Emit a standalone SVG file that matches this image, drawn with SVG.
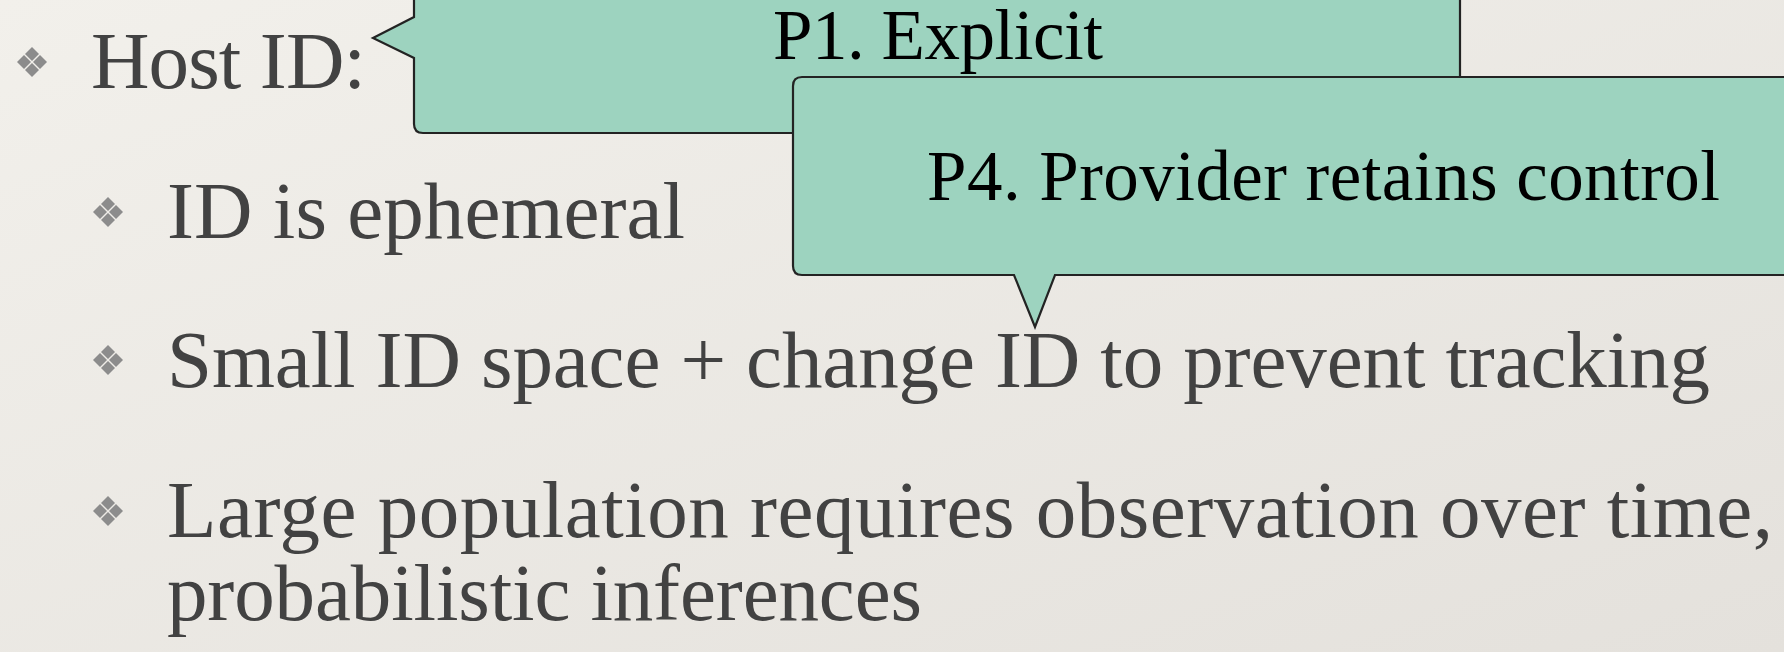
<svg xmlns="http://www.w3.org/2000/svg" xmlns:xlink="http://www.w3.org/1999/xlink" width="1784" height="652" viewBox="0 0 1784 652">
  <style>
    .body { font-family: "Liberation Serif", "Times New Roman", serif; font-size: 81px; fill: #424242; }
    .call { font-family: "Liberation Serif", "Times New Roman", serif; font-size: 71px; fill: #000000; }
    .bubble { fill: #9dd3bf; stroke: #232323; stroke-width: 2.2; stroke-linejoin: miter; }
    .dia { fill: #8c8c8c; }
  </style>
  <defs>
    <linearGradient id="paper" x1="0" y1="0" x2="1" y2="1">
      <stop offset="0" stop-color="#f2f0eb"/>
      <stop offset="1" stop-color="#e4e1dc"/>
    </linearGradient>
    <g id="bul">
      <polygon class="dia" points="0,-15 7,-8 0,-1 -7,-8"/>
      <polygon class="dia" points="-8,-7 -1,0 -8,7 -15,0"/>
      <polygon class="dia" points="8,-7 15,0 8,7 1,0"/>
      <polygon class="dia" points="0,1 7,8 0,15 -7,8"/>
    </g>
  </defs>
  <rect x="0" y="0" width="1784" height="652" fill="url(#paper)"/>

  <g id="line-host">
    <use xlink:href="#bul" x="32" y="62"/>
    <text class="body" x="91" y="88" textLength="275">Host ID:</text>
  </g>
  <g id="line-ephemeral">
    <use xlink:href="#bul" x="108" y="212"/>
    <text class="body" x="167" y="238" textLength="518">ID is ephemeral</text>
  </g>
  <g id="line-small">
    <use xlink:href="#bul" x="108" y="360"/>
    <text class="body" x="167" y="387" textLength="1543">Small ID space + change ID to prevent tracking</text>
  </g>
  <g id="line-large">
    <use xlink:href="#bul" x="108" y="511"/>
    <text class="body" x="167" y="537" textLength="1606">Large population requires observation over time,</text>
    <text class="body" x="167" y="620" textLength="755">probabilistic inferences</text>
  </g>

  <g id="connectors"></g>

  <g id="callout-p1">
    <path class="bubble" d="M414,-20 L1460,-20 L1460,133 L423,133 Q414,133 414,124 L414,58 L373,38 L414,17 Z"/>
    <text class="call" x="773" y="59" textLength="330">P1. Explicit</text>
  </g>
  <g id="callout-p4">
    <path class="bubble" d="M802,77 L1800,77 L1800,275 L1055,275 L1035,327 L1014,275 L802,275 Q793,275 793,266 L793,86 Q793,77 802,77 Z"/>
    <text class="call" x="927" y="200" textLength="793">P4. Provider retains control</text>
  </g>
</svg>
